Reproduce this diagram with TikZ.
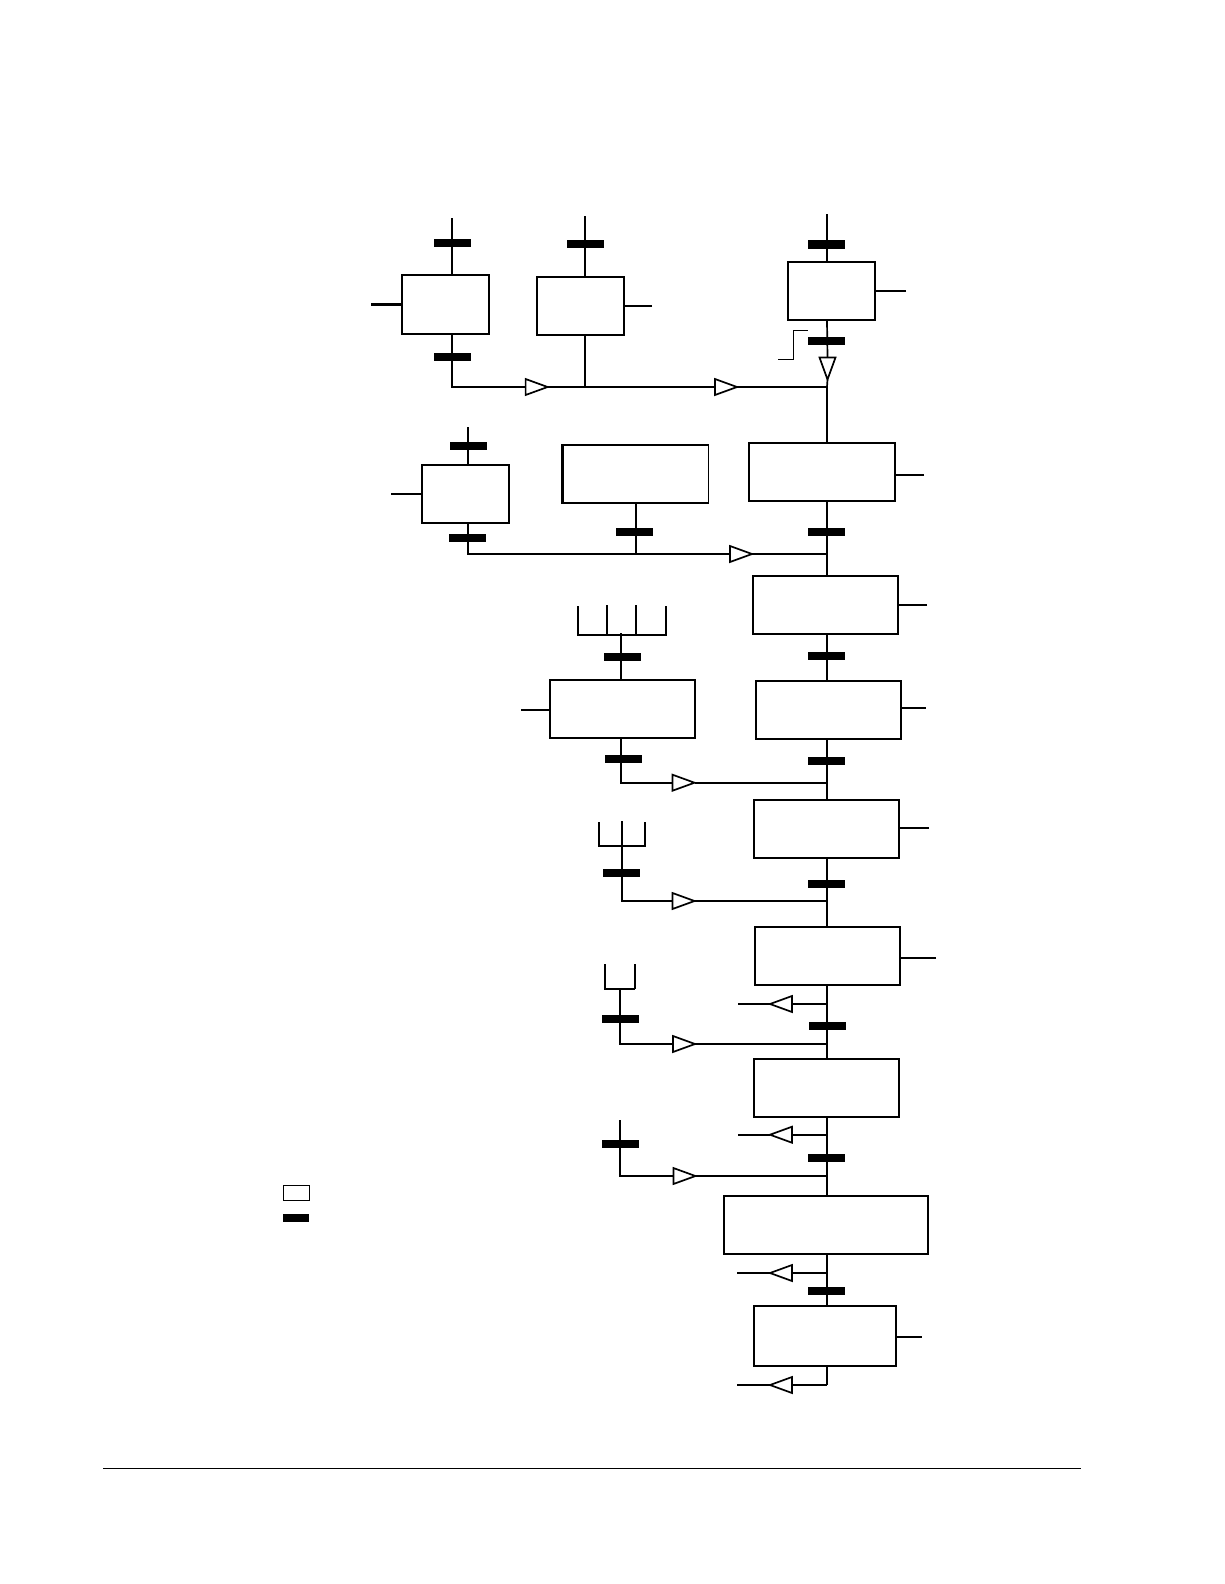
\documentclass[tikz,border=0pt]{standalone}
\usepackage{amsmath}
\usepackage{amssymb}
\usetikzlibrary{positioning,shapes.geometric}

\begin{document}
\begin{tikzpicture}[x=1pt, y=-1pt, line width=1.7pt,
    stepbox/.style={draw, fill=white, rectangle, inner sep=0pt, minimum width=#1, minimum height=58pt},
    blockbar/.style={fill=black, rectangle, inner sep=0pt, minimum width=37pt, minimum height=8pt},
    valve/.style={draw, fill=white, isosceles triangle, isosceles triangle stretches, inner sep=0pt, outer sep=0pt,
        minimum width=16pt, minimum height=22pt, anchor=apex, line width=1.7pt, shape border rotate=#1},
    thinline/.style={line width=1pt}]
    \useasboundingbox (0,0) rectangle (1224,1584);

    \coordinate (main) at (827,214);
    \coordinate (trunk) at (827,387);

    \node[stepbox=87pt, minimum height=59pt] (boxa) at (445.5,304.5) {};
    \node[stepbox=87pt] (boxb) at (580.5,306) {};
    \node[stepbox=87pt] (boxc) at (831.5,291) {};
    \node[stepbox=146pt] (boxd) at (822,472) {};
    \node[stepbox=145pt] (boxe) at (636,474) {};
    \node[stepbox=87pt] (boxf) at (465.5,494) {};
    \node[stepbox=145pt] (boxg) at (825.5,605) {};
    \node[stepbox=145pt] (boxh) at (828.3,710) {};
    \node[stepbox=145pt] (boxi) at (622.3,709) {};
    \node[stepbox=145pt] (boxj) at (826.6,829) {};
    \node[stepbox=145pt] (boxk) at (827.3,956) {};
    \node[stepbox=145pt] (boxl) at (826.5,1088) {};
    \node[stepbox=204pt] (boxm) at (826,1225) {};
    \node[stepbox=142.5pt, minimum height=60pt] (boxn) at (825,1336) {};

    \node[blockbar] (bara1) at (452.5,243.2) {};
    \node[blockbar] (bara2) at (452.5,357.2) {};
    \node[blockbar] (barb) at (585,244) {};
    \node[blockbar, minimum height=9pt] (barc1) at (826.5,244.5) {};
    \node[blockbar] (barc2) at (826.5,341) {};
    \node[blockbar] (bard) at (826.5,532) {};
    \node[blockbar] (bare) at (634.5,532) {};
    \node[blockbar] (barf1) at (468.5,446) {};
    \node[blockbar] (barf2) at (467.5,538) {};
    \node[blockbar] (barg) at (826.5,656) {};
    \node[blockbar] (barh) at (826.5,761) {};
    \node[blockbar] (bari1) at (622.5,657) {};
    \node[blockbar] (bari2) at (623.5,759) {};
    \node[blockbar] (barj) at (826.5,884) {};
    \node[blockbar] (barp) at (621.5,873) {};
    \node[blockbar] (barq) at (620.5,1018.5) {};
    \node[blockbar] (bark) at (827.5,1025.5) {};
    \node[blockbar] (barr) at (620.5,1144) {};
    \node[blockbar] (barl) at (826.5,1158) {};
    \node[blockbar] (barm) at (826.5,1291) {};

    \node[valve=0] (vala) at (547.6,387) {};
    \node[valve=0] (valb) at (737,387) {};
    \node[valve=-90] (valc) at (827.5,379.5) {};
    \node[valve=0] (vald) at (752,554) {};
    \node[valve=0] (vali) at (694.5,782.7) {};
    \node[valve=0] (valp) at (694.5,901) {};
    \node[valve=0] (valq) at (695,1044) {};
    \node[valve=0] (valr) at (695.4,1176) {};
    \node[valve=180] (valk) at (770,1004) {};
    \node[valve=180] (vall) at (770,1134.7) {};
    \node[valve=180] (valm) at (770,1273) {};
    \node[valve=180] (valn) at (770,1385) {};

    \coordinate (atop) at (452,218);
    \coordinate (aleft) at (371,304.5);
    \coordinate (aelbow) at (452,387);
    \coordinate (btop) at (585,216);
    \coordinate (bright) at (652,306);
    \coordinate (bjoin) at (585,387);
    \coordinate (cright) at (906,290.7);
    \coordinate (dright) at (924,475);
    \coordinate (ejoin) at (636,554);
    \coordinate (ftop) at (468,427);
    \coordinate (fleft) at (391.4,494);
    \coordinate (felbow) at (468,554);
    \coordinate (dend) at (827,554);
    \coordinate (gright) at (927,605);
    \coordinate (hright) at (925.7,708);
    \coordinate (ileft) at (521,710);
    \coordinate (itop) at (621,633.3);
    \coordinate (ielbow) at (621.3,782.7);
    \coordinate (iend) at (827,782.7);
    \coordinate (jright) at (929,828);
    \coordinate (ptop) at (622,821);
    \coordinate (pelbow) at (622,901);
    \coordinate (pend) at (827,901);
    \coordinate (kright) at (936,958);
    \coordinate (qelbow) at (620,1044);
    \coordinate (qend) at (827,1044);
    \coordinate (qtop) at (620,989);
    \coordinate (rtop) at (620,1120);
    \coordinate (relbow) at (620,1176);
    \coordinate (rend) at (827,1176);
    \coordinate (nright) at (921.8,1337);
    \coordinate (kjoin) at (827,1004);
    \coordinate (ljoin) at (827,1134.7);
    \coordinate (mjoin) at (827,1273);
    \coordinate (njoin) at (827,1385);
    \coordinate (kfree) at (738,1004);
    \coordinate (lfree) at (738,1134.7);
    \coordinate (mfree) at (737,1273);
    \coordinate (nfree) at (737,1385);

    \draw (atop) -- (atop |- boxa.north);
    \draw (atop |- boxa.south) -- (aelbow) -- (vala.lower side);
    \draw (vala.apex) -- (valb.lower side);
    \draw (valb.apex) -- (trunk);
    \draw (btop) -- (btop |- boxb.north);
    \draw (btop |- boxb.south) -- (bjoin);
    \draw (main) -- (main |- boxc.north);
    \draw (main |- boxc.south) -- (valc.lower side);
    \draw (valc.apex) -- (trunk) -- (trunk |- boxd.north);
    \draw[line width=2.4pt] (aleft) -- (aleft -| boxa.west);
    \draw (bright) -- (bright -| boxb.east);
    \draw (cright) -- (cright -| boxc.east);
    \draw (dright) -- (dright -| boxd.east);
    \draw[line width=2.4pt] (boxe.north west) -- (boxe.south west);

    \draw (ftop) -- (ftop |- boxf.north);
    \draw (ftop |- boxf.south) -- (felbow) -- (vald.lower side);
    \draw (vald.apex) -- (dend);
    \draw (fleft) -- (fleft -| boxf.west);
    \draw (ejoin |- boxe.south) -- (ejoin);

    \draw (main |- boxd.south) -- (main |- boxg.north);
    \draw (main |- boxg.south) -- (main |- boxh.north);
    \draw (main |- boxh.south) -- (main |- boxj.north);
    \draw (main |- boxj.south) -- (main |- boxk.north);
    \draw (main |- boxk.south) -- (main |- boxl.north);
    \draw (main |- boxl.south) -- (main |- boxm.north);
    \draw (main |- boxm.south) -- (main |- boxn.north);
    \draw (main |- boxn.south) -- (njoin);

    \draw (gright) -- (gright -| boxg.east);
    \draw (hright) -- (hright -| boxh.east);
    \draw (jright) -- (jright -| boxj.east);
    \draw (kright) -- (kright -| boxk.east);
    \draw (nright) -- (nright -| boxn.east);
    \draw (ileft) -- (ileft -| boxi.west);

    \draw (itop) -- (itop |- boxi.north);
    \draw (ielbow |- boxi.south) -- (ielbow) -- (vali.lower side);
    \draw (vali.apex) -- (iend);
    \draw (ptop) -- (pelbow) -- (valp.lower side);
    \draw (valp.apex) -- (pend);
    \draw (qtop) -- (qelbow) -- (valq.lower side);
    \draw (valq.apex) -- (qend);
    \draw (rtop) -- (relbow) -- (valr.lower side);
    \draw (valr.apex) -- (rend);

    \draw (kjoin) -- (valk.lower side);
    \draw (valk.apex) -- (kfree);
    \draw (ljoin) -- (vall.lower side);
    \draw (vall.apex) -- (lfree);
    \draw (mjoin) -- (valm.lower side);
    \draw (valm.apex) -- (mfree);
    \draw (njoin) -- (valn.lower side);
    \draw (valn.apex) -- (nfree);

    \coordinate (combi1) at (578,606);
    \coordinate (combi2) at (607,605);
    \coordinate (combi3) at (636,605);
    \coordinate (combi4) at (666,606);
    \coordinate (combibase) at (578,634.7);
    \draw (combi1) -- (combi1 |- combibase) -- (combi4 |- combibase) -- (combi4);
    \draw (combi2) -- (combi2 |- combibase);
    \draw (combi3) -- (combi3 |- combibase);

    \coordinate (combp1) at (599,822.3);
    \coordinate (combp3) at (645,822.3);
    \coordinate (combpbase) at (599,846);
    \draw (combp1) -- (combp1 |- combpbase) -- (combp3 |- combpbase) -- (combp3);

    \coordinate (combq1) at (605,964);
    \coordinate (combq2) at (634.7,964);
    \coordinate (combqbase) at (605,989);
    \draw (combq1) -- (combq1 |- combqbase) -- (combq2 |- combqbase);
    \draw[line width=2.4pt] (combq2 |- combqbase) -- (combq2);

    \coordinate (stepa) at (778,359.3);
    \coordinate (stepb) at (793.6,359.3);
    \coordinate (stepc) at (793.6,330.3);
    \coordinate (stepd) at (808,330.3);
    \draw[thinline] (stepa) -- (stepb) -- (stepc) -- (stepd);

    \node[draw, thinline, rectangle, inner sep=0pt, minimum width=26.5pt, minimum height=14.7pt] (keyopen) at (296.3,1193.3) {};
    \node[blockbar, minimum width=26pt] (keyshut) at (296,1218) {};

    \coordinate (rulea) at (103,1468.3);
    \coordinate (ruleb) at (1080.6,1468.3);
    \draw[thinline] (rulea) -- (ruleb);
\end{tikzpicture}
\end{document}
